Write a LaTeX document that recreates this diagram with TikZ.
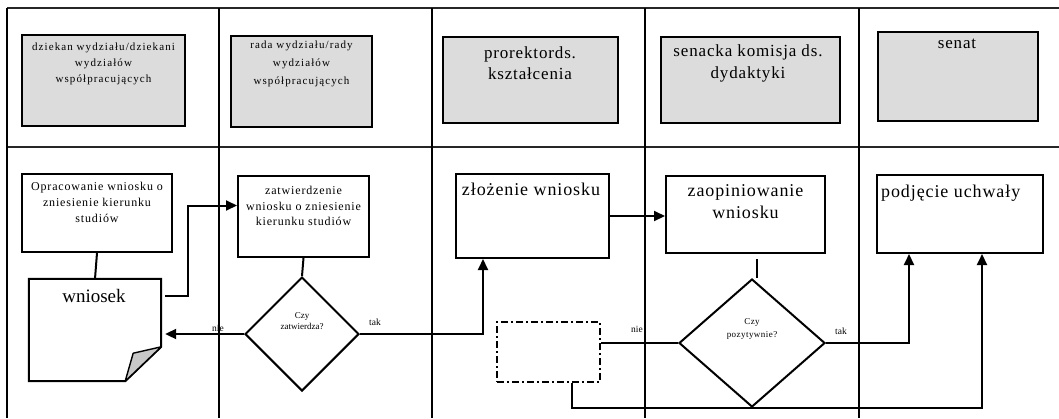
\documentclass[tikz,border=0pt]{standalone}
\usepackage{fontspec}
\setmainfont{Liberation Serif}
\newfontfamily\lsa[LetterSpace=10]{Liberation Serif}
\newfontfamily\lsc[LetterSpace=7]{Liberation Serif}
\newfontfamily\lsb[LetterSpace=5]{Liberation Serif}
\usetikzlibrary{arrows.meta,calc,shapes.geometric}
\definecolor{hdrgray}{RGB}{220,220,220}
\definecolor{foldgray}{RGB}{200,200,200}
\begin{document}
\begin{tikzpicture}[x=1pt,y=-1pt,
  lane/.style={line width=1.8pt},
  hdr/.style={draw, line width=2.2pt, fill=hdrgray, inner sep=0pt},
  box/.style={draw, line width=2pt, fill=white, inner sep=0pt},
  ghost/.style={inner sep=0pt},
  dia/.style={draw, diamond, line width=2pt, inner sep=0pt, fill=white},
  txt/.style={inner sep=0pt, align=center},
  conn/.style={line width=2pt},
  arr/.style={line width=2pt, -{Triangle[length=11pt,width=10pt]}},
  dashbox/.style={draw, line width=2pt, dash pattern=on 7pt off 3pt on 2pt off 3pt, inner sep=0pt},
]
\useasboundingbox (0,0) rectangle (1059,418);
% swimlane grid
\draw[line width=1.5pt, black!85] (7,8) -- (1059,8);
\draw[line width=1.5pt, black!85] (7,147) -- (1059,147);
\draw[lane] (7,8) -- (7,418);
\draw[lane, line width=2.5pt] (219,8) -- (219,418);
\draw[lane] (432,8) -- (432,418);
\draw[lane] (645,8) -- (645,418);
\draw[lane] (859,8) -- (859,418);
% header boxes
\node[hdr, minimum width=163pt, minimum height=91pt] (h1) at (103.5,80.5) {};
\node[hdr, minimum width=141pt, minimum height=91pt] (h2) at (301.5,81.5) {};
\node[hdr, minimum width=175pt, minimum height=86pt] (h3) at (530.5,80) {};
\node[hdr, minimum width=179pt, minimum height=86pt] (h4) at (750.5,80) {};
\node[hdr, minimum width=160pt, minimum height=89pt] (h5) at (958,76.5) {};
\node[txt, anchor=north, font=\lsa\fontsize{11}{16}\selectfont] (h1t) at (103.5,43) {dziekan wydziału/dziekani\\wydziałów\\współpracujących};
\node[txt, anchor=north, font=\lsa\fontsize{11}{18}\selectfont] (h2t) at (301.5,41) {rada wydziału/rady\\wydziałów\\współpracujących};
\node[txt, anchor=north, font=\lsb\fontsize{17}{21}\selectfont] (h3t) at (530,47) {prorektords.\\kształcenia};
\node[txt, anchor=north, font=\lsb\fontsize{17}{22}\selectfont] (h4t) at (748,45) {senacka komisja ds.\\dydaktyki};
\node[txt, anchor=north, font=\lsb\fontsize{17}{21}\selectfont] (h5t) at (957,39) {senat};
% process boxes
\node[box, minimum width=150pt, minimum height=78pt] (op) at (97,213) {};
\node[box, minimum width=131pt, minimum height=81pt] (zat) at (303.5,216.5) {};
\node[box, minimum width=153pt, minimum height=84pt] (zl) at (532.5,216) {};
\node[box, minimum width=159pt, minimum height=77pt] (zop) at (745.5,214.5) {};
\node[box, minimum width=166pt, minimum height=78pt] (pu) at (960,214) {};
\node[txt, anchor=north, font=\lsc\fontsize{12}{16}\selectfont] (opt) at (97,181.5) {Opracowanie wniosku o\\zniesienie kierunku\\studiów};
\node[txt, anchor=north, font=\lsc\fontsize{12}{15.5}\selectfont] (zatt) at (303.5,186) {zatwierdzenie\\wniosku o zniesienie\\kierunku studiów};
\node[txt, anchor=base, font=\lsb\fontsize{18}{22}\selectfont] (zlt) at (531,195) {złożenie wniosku};
\node[txt, anchor=north, font=\lsb\fontsize{18}{22}\selectfont] (zopt) at (745.5,184.5) {zaopiniowanie\\wniosku};
\node[txt, anchor=base west, font=\lsb\fontsize{18}{22}\selectfont] (put) at (881,197) {podjęcie uchwały};
% document shape
\node[ghost, minimum width=132pt, minimum height=102pt] (wn) at (95,330) {};
\draw[line width=2pt, fill=white, line join=miter]
  (wn.north west) -- (wn.north east) -- ($(wn.north east)+(0,68)$) -- ($(wn.south east)+(-36,0)$) -- (wn.south west) -- cycle;
\draw[line width=1.4pt, fill=foldgray, line join=round]
  ($(wn.north east)+(0,68)$) -- ($(wn.south east)+(-28,-28)$) -- ($(wn.south east)+(-36,0)$) -- cycle;
\node[txt, anchor=base, font=\fontsize{19}{22}\selectfont] (wnt) at (94,302) {wniosek};
% decisions
\node[dia, minimum width=114pt, minimum height=114pt] (d1) at (302,334) {};
\node[dia, minimum width=146pt, minimum height=128pt] (d2) at (752,343) {};
\node[txt, anchor=north, font=\fontsize{9}{11}\selectfont] (d1t) at (302,312) {Czy\\zatwierdza?};
\node[txt, anchor=north, font=\lsb\fontsize{9}{13}\selectfont] (d2t) at (752,318) {Czy\\pozytywnie?};
% dash-dot box
\node[dashbox, minimum width=103pt, minimum height=60pt] (db) at (548.5,352) {};
% connectors
\draw[conn] (op.south) -- (wn.north);
\draw[arr] ([xshift=4pt]wnt.center -| wn.east) -- ++(23,0) |- ([yshift=11pt]zat.west);
\draw[conn] (zat.south) -- (d1.north);
\draw[arr] (d1.west) -- ([xshift=4pt]d1.west -| wn.east);
\draw[arr] (d1.east) -| ([xshift=-49.5pt]zl.south);
\draw[arr] (zl.east) -- (zl.east -| zop.west);
\draw[conn] ([xshift=11pt,yshift=-5pt]zop.south) -- ([xshift=11pt]zop.south |- d2.north);
\draw[conn] (d2.west) -- (d2.west -| db.east);
\draw[arr] (d2.east) -| ([xshift=-51pt]pu.south);
\draw[arr] ([xshift=23.5pt]db.south) -- ++(0,25) -| ([xshift=22pt]pu.south);
% labels
\node[txt, anchor=base, font=\fontsize{9.5}{11}\selectfont] (l1) at (218,331) {nie};
\node[txt, anchor=base, font=\fontsize{9.5}{11}\selectfont] (l2) at (375,325) {tak};
\node[txt, anchor=base, font=\fontsize{9.5}{11}\selectfont] (l3) at (637,332) {nie};
\node[txt, anchor=base, font=\fontsize{9.5}{11}\selectfont] (l4) at (841,334) {tak};
\end{tikzpicture}
\end{document}
